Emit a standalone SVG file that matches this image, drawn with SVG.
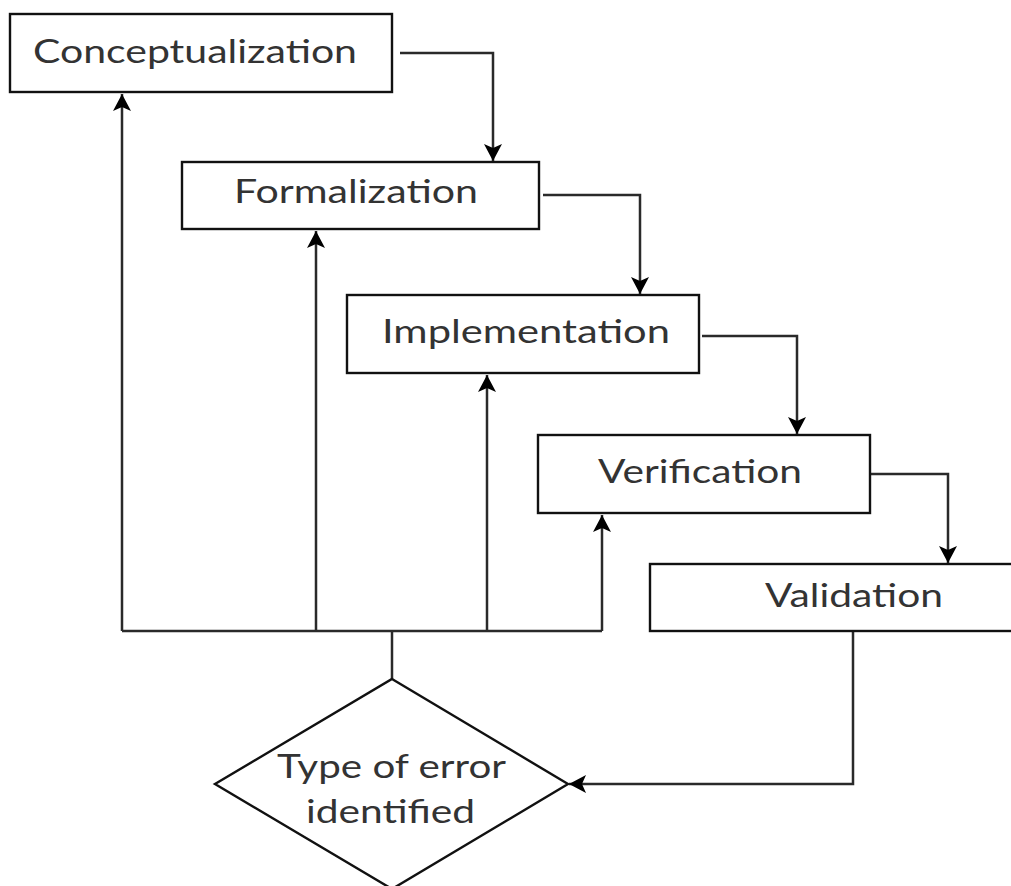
<svg xmlns="http://www.w3.org/2000/svg" width="1011" height="886" viewBox="0 0 1011 886">
  <defs>
    <style>
      .box { fill: #ffffff; stroke: #111111; stroke-width: 2.4; }
      .lbl { font-family: Lato, "Open Sans", "Liberation Sans", sans-serif; font-size: 33px; fill: #333333; }
      .con { fill: none; stroke: #2a2a2a; stroke-width: 2.5; }
    </style>
    <marker id="ah" markerUnits="userSpaceOnUse" markerWidth="20" markerHeight="20" refX="17" refY="10" orient="auto">
      <path d="M0,1 L17,10 L0,19 L4,10 z" fill="#000000"/>
    </marker>
  </defs>
  <rect width="1011" height="886" fill="#ffffff"/>

  <g id="connectors">
    <polyline class="con" points="400,53 493,53 493,161" marker-end="url(#ah)"/>
    <polyline class="con" points="543,195 640,195 640,294" marker-end="url(#ah)"/>
    <polyline class="con" points="702,336 797,336 797,434" marker-end="url(#ah)"/>
    <polyline class="con" points="870,474 948,474 948,563" marker-end="url(#ah)"/>
    <polyline class="con" points="853,632 853,784 569,784" marker-end="url(#ah)"/>
    <polyline class="con" points="392,679 392,631"/>
    <polyline class="con" points="122,631 602,631"/>
    <polyline class="con" points="122,631 122,94" marker-end="url(#ah)"/>
    <polyline class="con" points="316,631 316,231" marker-end="url(#ah)"/>
    <polyline class="con" points="487,631 487,375" marker-end="url(#ah)"/>
    <polyline class="con" points="602,631 602,515" marker-end="url(#ah)"/>
  </g>

  <g id="conceptualization">
    <rect class="box" x="10" y="14" width="382" height="78"/>
    <text class="lbl" x="33" y="63" textLength="324" lengthAdjust="spacingAndGlyphs">Conceptualization</text>
  </g>
  <g id="formalization">
    <rect class="box" x="182" y="162" width="357" height="67"/>
    <text class="lbl" x="234" y="203" textLength="244" lengthAdjust="spacingAndGlyphs">Formalization</text>
  </g>
  <g id="implementation">
    <rect class="box" x="347" y="295" width="352" height="78"/>
    <text class="lbl" x="382" y="343" textLength="288" lengthAdjust="spacingAndGlyphs">Implementation</text>
  </g>
  <g id="verification">
    <rect class="box" x="538" y="435" width="332" height="78"/>
    <text class="lbl" x="598" y="483" textLength="204" lengthAdjust="spacingAndGlyphs">Verification</text>
  </g>
  <g id="validation">
    <rect class="box" x="650" y="564" width="370" height="67"/>
    <text class="lbl" x="765" y="607" textLength="178" lengthAdjust="spacingAndGlyphs">Validation</text>
  </g>
  <g id="error-type">
    <polygon class="box" points="392,679 568,784 392,889 215,784"/>
    <text class="lbl" x="277" y="778" textLength="229" lengthAdjust="spacingAndGlyphs">Type of error</text>
    <text class="lbl" x="306" y="823" textLength="169" lengthAdjust="spacingAndGlyphs">identified</text>
  </g>
</svg>
